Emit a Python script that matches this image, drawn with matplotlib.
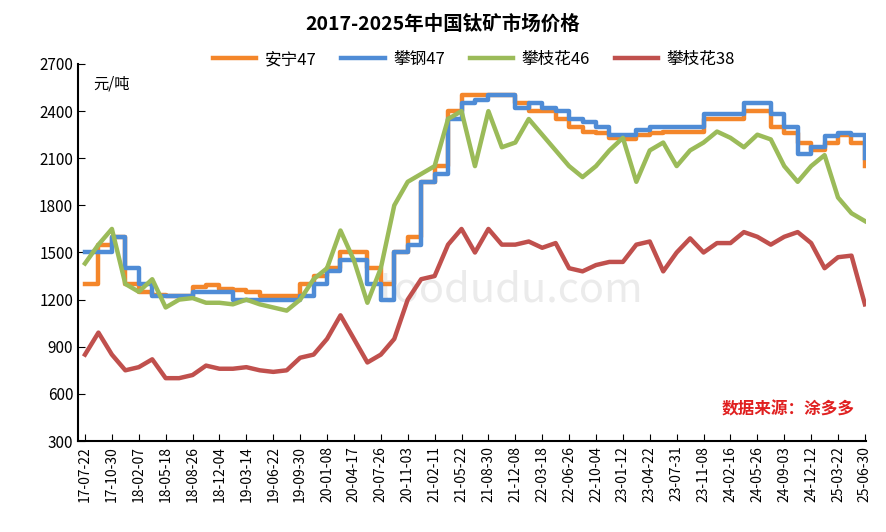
import matplotlib
matplotlib.use("Agg")
import matplotlib.pyplot as plt
import numpy as np

plt.rcParams['font.family'] = ['Noto Sans CJK SC', 'DejaVu Sans']

tick_labels = ["17-07-22","17-10-30","18-02-07","18-05-18","18-08-26","18-12-04","19-03-14","19-06-22",
               "19-09-30","20-01-08","20-04-17","20-07-26","20-11-03","21-02-11","21-05-22","21-08-30",
               "21-12-08","22-03-18","22-06-26","22-10-04","23-01-12","23-04-22","23-07-31","23-11-08",
               "24-02-16","24-05-26","24-09-03","24-12-12","25-03-22","25-06-30"]

anning47 = [1300,1550,1600,1300,1250,1230,1220,1220,1280,1290,1270,1260,1250,1220,1220,1220,1300,1350,1400,1500,
            1500,1400,1300,1500,1600,1950,2050,2400,2500,2500,2500,2500,2450,2400,2400,2350,2300,2270,2260,2230,
            2220,2250,2260,2270,2270,2270,2350,2350,2350,2400,2400,2300,2260,2200,2150,2200,2250,2200,2050]
pangang47 = [1500,1500,1600,1400,1300,1220,1220,1220,1250,1250,1250,1200,1200,1200,1200,1200,1220,1300,1380,1450,
             1450,1300,1200,1500,1550,1950,2000,2350,2450,2470,2500,2500,2420,2450,2420,2400,2350,2330,2300,2250,
             2250,2280,2300,2300,2300,2300,2380,2380,2380,2450,2450,2380,2300,2130,2170,2240,2260,2250,2100]
pzh46 = [1430,1550,1650,1300,1250,1330,1150,1200,1210,1180,1180,1170,1200,1170,1150,1130,1200,1330,1400,1640,
         1450,1180,1400,1800,1950,2000,2050,2350,2400,2050,2400,2170,2200,2350,2250,2150,2050,1980,2050,2150,
         2230,1950,2150,2200,2050,2150,2200,2270,2230,2170,2250,2220,2050,1950,2050,2120,1850,1750,1700]
pzh38 = [850,990,850,750,770,820,700,700,720,780,760,760,770,750,740,750,830,850,950,1100,
         950,800,850,950,1200,1330,1350,1550,1650,1500,1650,1550,1550,1570,1530,1560,1400,1380,1420,1440,
         1440,1550,1570,1380,1500,1590,1500,1560,1560,1630,1600,1550,1600,1630,1560,1400,1470,1480,1170]

x = np.arange(len(anning47)) / 2.0

fig = plt.figure(figsize=(8.86, 5.32), dpi=100)
ax = fig.add_axes([78/886, 91/532, 788/886, 377/532])

ax.plot(x, anning47, color='#F4862A', lw=3.2, drawstyle='steps-post', label='安宁47')
ax.plot(x, pangang47, color='#4F8CD6', lw=3.2, drawstyle='steps-post', label='攀钢47')
ax.plot(x, pzh46, color='#9BBB59', lw=3.2, label='攀枝花46')
ax.plot(x, pzh38, color='#C0504D', lw=3.2, label='攀枝花38')

ax.set_xlim(-0.26, 29.04)
ax.set_ylim(300, 2700)
ax.set_yticks(np.arange(300, 2701, 300))
ax.set_xticks(np.arange(len(tick_labels)))
ax.set_xticklabels(tick_labels, rotation=90, fontsize=10)
ax.tick_params(axis='y', direction='in', labelsize=11, length=5)
ax.tick_params(axis='x', direction='in', length=5)
for s in ['top', 'right']:
    ax.spines[s].set_visible(False)
ax.spines['left'].set_linewidth(1.5)
ax.spines['bottom'].set_linewidth(1.5)

ax.text(0.02, 0.97, '元/吨', transform=ax.transAxes, fontsize=11, va='top')
ax.text(0.985, 0.06, '数据来源：涂多多', transform=ax.transAxes, fontsize=12, color='#E02020',
        ha='right', va='bottom', fontweight='bold', style='italic')
ax.text(0.55, 0.40, 'toodudu.com', transform=ax.transAxes, fontsize=30, color='#EBEBEB',
        ha='center', va='center', zorder=0)

fig.text(0.5, 0.955, '2017-2025年中国钛矿市场价格', ha='center', va='center', fontsize=14, fontweight='bold')
fig.legend(loc='center', bbox_to_anchor=(0.535, 0.888), ncol=4, frameon=False, fontsize=12,
           handlelength=2.6, columnspacing=1.5, handletextpad=0.5)

fig.savefig('out.png', dpi=100)
